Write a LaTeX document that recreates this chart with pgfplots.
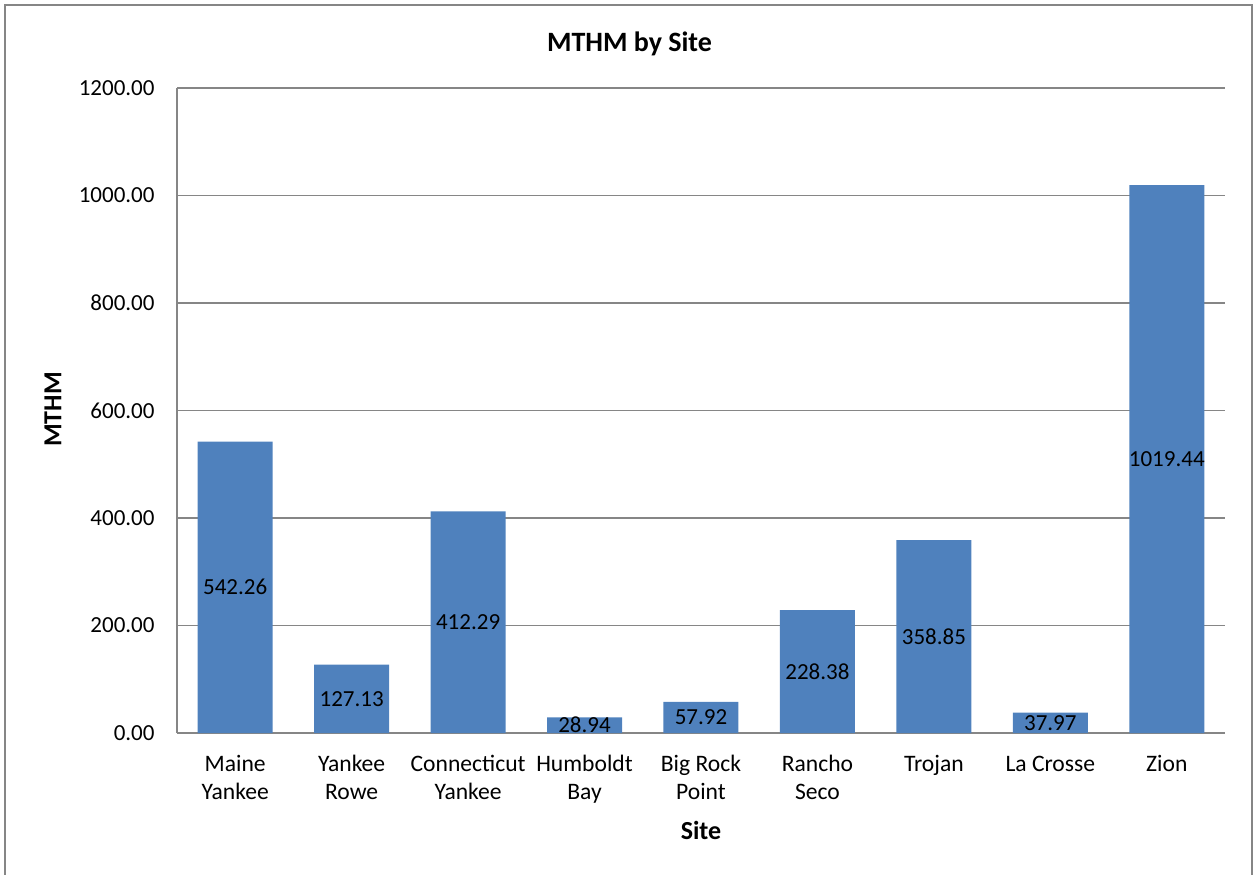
\documentclass[border=0pt]{standalone}
\usepackage{fontspec}
\setmainfont{Carlito}
\usepackage{pgfplots}
\usepackage{pgfplotstable}
\pgfplotsset{compat=1.18}
\definecolor{barblue}{HTML}{4F81BD}
\definecolor{gridgray}{HTML}{868686}
\pgfplotstableread{
x y lab
0 542.26 542.26
1 127.13 127.13
2 412.29 412.29
3 28.94 28.94
4 57.92 57.92
5 228.38 228.38
6 358.85 358.85
7 37.97 37.97
8 1019.44 1019.44
}\data
\begin{document}
\begin{tikzpicture}
\useasboundingbox (0pt,0pt) rectangle (629.5pt,437pt);
\draw[gridgray, line width=0.9pt] (2.5pt,-20pt) -- (2.5pt,434.5pt) -- (626pt,434.5pt) -- (626pt,-20pt);
\begin{axis}[
  at={(88.5pt,70.5pt)}, anchor=south west,
  scale only axis, width=524pt, height=322.5pt,
  ymin=0, ymax=1200, ytick={0,200,...,1200},
  xmin=-0.5, xmax=8.5, xtick={0,...,8},
  xticklabels={{\strut Maine\\Yankee},{\strut Yankee\\Rowe},{\strut Connecticut\\Yankee},{\strut Humboldt\\Bay},{\strut Big Rock\\Point},{\strut Rancho\\Seco},{\strut Trojan},{\strut La Crosse},{\strut Zion}},
  ymajorgrids, grid style={gridgray, line width=0.6pt},
  axis x line*=bottom, axis y line*=left,
  axis line style={gridgray, line width=0.8pt, -},
  major tick length=0pt,
  /pgf/number format/assume math mode=true,
  ticklabel style={font=\fontsize{11.5}{14}\selectfont},
  xticklabel style={align=center, anchor=north, yshift=-6pt, font=\fontsize{11.8}{14}\selectfont},
  yticklabel style={anchor=east, xshift=-7.7pt, /pgf/number format/.cd, fixed, fixed zerofill, precision=2, 1000 sep={}},
]
\addplot[ybar, bar width=37.5pt, fill=barblue, draw=none] table[x=x, y=y] {\data};
\addplot[draw=none, mark=none, nodes near coords, point meta=explicit symbolic,
  every node near coord/.append style={anchor=center, font=\fontsize{11.5}{14}\selectfont, text=black}]
  table[x=x, y expr=\thisrow{y}/2, meta=lab] {\data};
\end{axis}
\node[font=\bfseries\fontsize{14}{17}\selectfont] at (314.75pt,415pt) {MTHM by Site};
\node[rotate=90, font=\bfseries\fontsize{13}{16}\selectfont] at (26.5pt,232.25pt) {MTHM};
\node[font=\bfseries\fontsize{13}{16}\selectfont] at (350.5pt,22pt) {Site};
\end{tikzpicture}
\end{document}
